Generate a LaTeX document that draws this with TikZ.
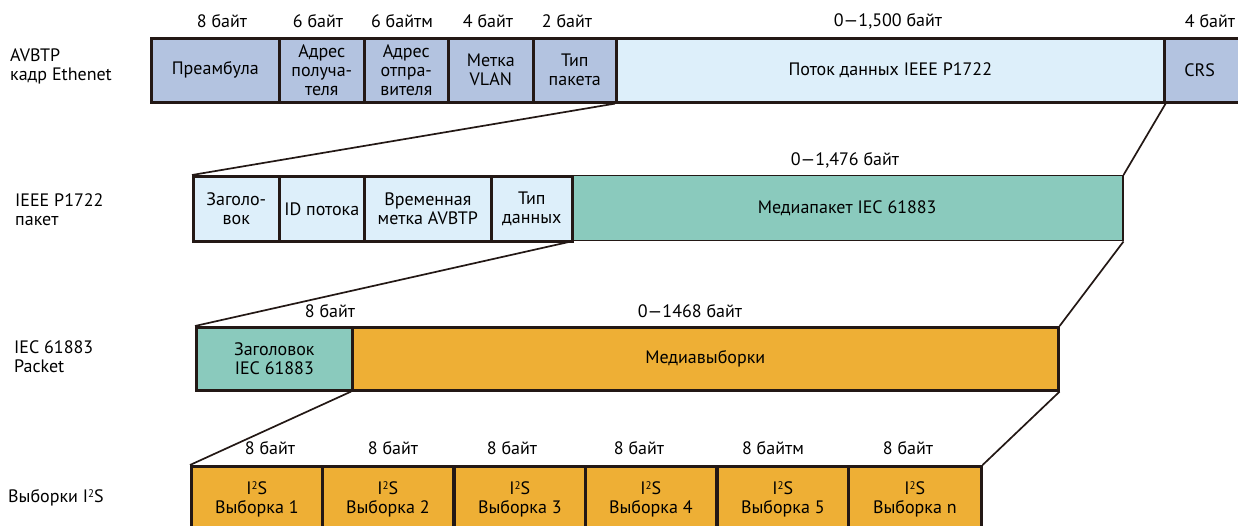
\documentclass[tikz,border=0pt]{standalone}
\usepackage{fontspec}
\setmainfont{PT Sans}
\definecolor{bgray}{HTML}{B3C3E0}
\definecolor{lblue}{HTML}{DDEFFA}
\definecolor{tealc}{HTML}{8ACABD}
\definecolor{orng}{HTML}{EEAF35}
\definecolor{edgec}{HTML}{231815}
\newcommand{\fsz}{\fontsize{18}{19}\selectfont}
\newcommand{\sqr}{{\fontsize{11}{11}\selectfont\raisebox{5.5pt}{2}}}
\begin{document}
\begin{tikzpicture}[x=1pt,y=-1pt,
  cell/.style={draw=edgec, line width=2.6pt, anchor=north west, inner sep=0pt, align=center, font=\fsz},
  r1/.style={cell, fill=bgray, minimum height=64pt},
  r2/.style={cell, fill=lblue, minimum height=65pt},
  r3/.style={cell, minimum height=63pt},
  r4/.style={cell, fill=orng, minimum height=66pt, minimum width=131pt},
  lab/.style={font=\fsz, inner sep=0pt, anchor=center},
  side/.style={font=\fsz, inner sep=0pt, anchor=west, align=left},
  conn/.style={draw=edgec, line width=1.7pt}]
\useasboundingbox (0,0) rectangle (1238,526);
\clip (0,0) rectangle (1238,526);
% row 1
\node[r1, minimum width=128pt] (pre) at (150,37) {Преамбула};
\node[r1, minimum width=85pt] (dst) at (278,37) {Адрес\\получа-\\теля};
\node[r1, minimum width=84pt] (src) at (363,37) {Адрес\\отпра-\\вителя};
\node[r1, minimum width=85pt] (vlan) at (447,37) {Метка\\VLAN};
\node[r1, minimum width=83pt] (typ) at (532,37) {Тип\\пакета};
\node[r1, fill=lblue, minimum width=548pt] (potok) at (615,37) {Поток данных IEEE P1722};
\node[r1, minimum width=90pt, text width=76pt, align=left] (crs) at (1163,37) {\hspace*{13pt}CRS};
\node[lab] (l11) at (222,21) {8 байт};
\node[lab] (l12) at (318,21) {6 байт};
\node[lab] (l13) at (402,21) {6 байтм};
\node[lab] (l14) at (488,21) {4 байт};
\node[lab] (l15) at (567,21) {2 байт};
\node[lab] (l16) at (888,21) {0—1,500 байт};
\node[lab] (l17) at (1210,21) {4 байт};
% row 2
\node[r2, fill=tealc, line width=1.5pt, minimum width=551pt] (media) at (571,175) {Медиапакет IEC 61883};
\node[r2, minimum width=86pt] (hdr) at (192,175) {Заголо-\\вок};
\node[r2, minimum width=85pt] (sid) at (278,175) {ID потока};
\node[r2, minimum width=127pt] (ts) at (363,175) {Временная\\метка AVBTP};
\node[r2, minimum width=81pt] (dt) at (490,175) {Тип\\данных};
\node[lab] (l21) at (845,160) {0—1,476 байт};
% row 3
\node[r3, fill=orng, minimum width=706pt] (samp) at (351,326) {Медиавыборки};
\node[r3, fill=tealc, minimum width=156pt] (ihdr) at (195,326) {Заголовок\\IEC 61883};
\node[lab] (l31) at (330,311) {8 байт};
\node[lab] (l32) at (690,311) {0—1468 байт};
% row 4
\node[r4] (s1) at (190,465) {I\sqr S\\Выборка 1};
\node[r4] (s2) at (321,465) {I\sqr S\\Выборка 2};
\node[r4] (s3) at (453,465) {I\sqr S\\Выборка 3};
\node[r4] (s4) at (584,465) {I\sqr S\\Выборка 4};
\node[r4] (s5) at (716,465) {I\sqr S\\Выборка 5};
\node[r4, minimum width=133pt] (sn) at (847,465) {I\sqr S\\Выборка n};
\node[lab] (l41) at (270,448) {8 байт};
\node[lab] (l42) at (393,448) {8 байт};
\node[lab] (l43) at (512,448) {8 байт};
\node[lab] (l44) at (639,448) {8 байт};
\node[lab] (l45) at (773,448) {8 байтм};
\node[lab] (l46) at (908,448) {8 байт};
% side labels
\node[side] (s_a) at (10,66) {AVBTP\\кадр Ethenet};
\node[side] (s_b) at (15,210) {IEEE P1722\\пакет};
\node[side] (s_c) at (14,357) {IEC 61883\\Packet};
\node[side] (s_d) at (8,498) {Выборки I\sqr S};
% connectors
\draw[conn] (potok.south west) -- (hdr.north west);
\draw[conn] (potok.south east) -- (media.north east);
\draw[conn] (media.south west) -- (ihdr.north west);
\draw[conn] (media.south east) -- (samp.north east);
\draw[conn] (samp.south west) -- (s1.north west);
\draw[conn] (samp.south east) -- (sn.north east);
\end{tikzpicture}
\end{document}
